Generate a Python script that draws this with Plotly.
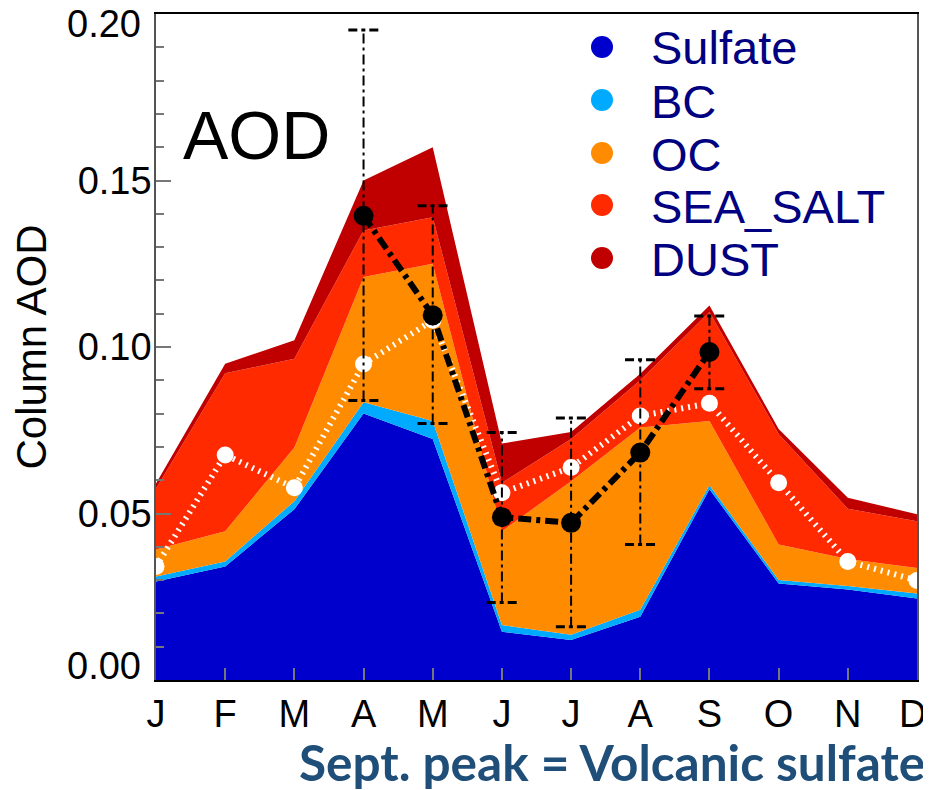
import plotly.graph_objects as go

months = ["J", "F", "M", "A", "M", "J", "J", "A", "S", "O", "N", "D"]
x_idx = list(range(len(months)))

species = ["Sulfate", "BC", "OC", "SEA_SALT", "DUST"]
colors = ["#0000CD", "#00AAFF", "#FF8C00", "#FF2A00", "#C00000"]

sulfate = [0.0296, 0.0341, 0.0513, 0.0800, 0.0724, 0.0145, 0.0120, 0.0190, 0.0573, 0.0290, 0.0272, 0.0245]
bc      = [0.0015, 0.0015, 0.0024, 0.0034, 0.0054, 0.0020, 0.0016, 0.0021, 0.0012, 0.0010, 0.0010, 0.0015]
oc      = [0.0081, 0.0091, 0.0161, 0.0376, 0.0472, 0.0282, 0.0461, 0.0547, 0.0193, 0.0107, 0.0081, 0.0076]
seasalt = [0.0183, 0.0474, 0.0267, 0.0140, 0.0140, 0.0145, 0.0127, 0.0142, 0.0327, 0.0332, 0.0151, 0.0141]
dust    = [0.0015, 0.0029, 0.0055, 0.0150, 0.0210, 0.0118, 0.0021, 0.0020, 0.0020, 0.0015, 0.0033, 0.0021]
series = [sulfate, bc, oc, seasalt, dust]

# observed (black) with error range
obs_x    = [3, 4, 5, 6, 7, 8]
obs      = [0.1394, 0.1095, 0.0489, 0.0472, 0.0683, 0.0985]
obs_high = [0.1952, 0.1424, 0.0743, 0.0787, 0.0962, 0.1093]
obs_low  = [0.0839, 0.0770, 0.0233, 0.0160, 0.0407, 0.0875]

# model total (white)
model = [0.0341, 0.0676, 0.0577, 0.0949, 0.1080, 0.0562, 0.0638, 0.0793, 0.0831, 0.0592, 0.0356, 0.0299]

y_ticks = [0, 0.05, 0.10, 0.15, 0.20]
y_ticktext = ["0.00", "0.05", "0.10", "0.15", "0.20"]

FONT = "Liberation Sans, Arial, sans-serif"
fig = go.Figure()

for name, vals, col in zip(species, series, colors):
    fig.add_trace(go.Scatter(x=x_idx, y=vals, name=name, stackgroup="aod",
                             mode="lines", line=dict(width=0, color=col),
                             fillcolor=col, showlegend=False))

# white model line
fig.add_trace(go.Scatter(x=x_idx, y=model, mode="lines+markers",
                         line=dict(color="white", width=6, dash="2px,5px"),
                         marker=dict(color="white", size=17), showlegend=False))

# error bars: vertical dash-dot lines and dashed caps
cap = 0.22
vx, vy, cx, cy = [], [], [], []
for xi, lo, hi in zip(obs_x, obs_low, obs_high):
    vx += [xi, xi, None]
    vy += [lo, hi, None]
    for v in (lo, hi):
        cx += [xi - cap, xi + cap, None]
        cy += [v, v, None]
fig.add_trace(go.Scatter(x=vx, y=vy, mode="lines",
                         line=dict(color="black", width=2, dash="10px,4px,3px,4px"),
                         showlegend=False))
fig.add_trace(go.Scatter(x=cx, y=cy, mode="lines",
                         line=dict(color="black", width=3, dash="9px,4px,4px,4px"),
                         showlegend=False))

# black observed line
fig.add_trace(go.Scatter(x=obs_x, y=obs, mode="lines+markers",
                         line=dict(color="black", width=6, dash="13px,5px,4px,5px"),
                         marker=dict(color="black", size=20), showlegend=False))

# page offset (body margin) compensation: figure drawn from (8, 8)
OFF = 8
FW, FH = 931 - OFF, 790 - OFF
# plot area in screen pixels
W0, W1, T0, T1 = 156, 917, 14, 680
def px_x(p): return (p - W0) / (W1 - W0)
def px_y(p): return (T1 - p) / (T1 - T0)

leg_y = [47, 100, 153, 205, 258]
shapes = []
annotations = []
for name, col, yy in zip(species, colors, leg_y):
    shapes.append(dict(type="circle", xref="paper", yref="paper",
                       xsizemode="pixel", ysizemode="pixel",
                       xanchor=px_x(602), yanchor=px_y(yy),
                       x0=-11, x1=11, y0=-11, y1=11,
                       fillcolor=col, line=dict(width=0)))
    annotations.append(dict(text=name, xref="paper", yref="paper",
                            x=px_x(649), y=px_y(yy + 1), xanchor="left", yanchor="middle",
                            showarrow=False, font=dict(family=FONT, size=47, color="#000080")))

# end labels of the y axis sit inside the axis span, as in the original
end_label_pos = {0: 666, 4: 24}
for i, ypos in end_label_pos.items():
    annotations.append(dict(text=y_ticktext[i], xref="paper", yref="paper",
                            x=px_x(143), y=px_y(ypos), xanchor="right", yanchor="middle",
                            showarrow=False, font=dict(family=FONT, size=38, color="black")))
y_text_shown = [("" if i in end_label_pos else t) for i, t in enumerate(y_ticktext)]

# last month label sits slightly inside the right edge
x_text_shown = months[:-1] + [""]
annotations.append(dict(text=months[-1], xref="paper", yref="paper",
                        x=px_x(912), y=px_y(714), xanchor="center", yanchor="middle",
                        showarrow=False, font=dict(family=FONT, size=38, color="black")))

annotations.append(dict(text="AOD", xref="paper", yref="paper",
                        x=px_x(181), y=px_y(135), xanchor="left", yanchor="middle",
                        showarrow=False, font=dict(family=FONT, size=68, color="black")))
annotations.append(dict(text="<b>Sept. peak = Volcanic sulfate</b>", xref="paper", yref="paper",
                        x=px_x(927), y=px_y(762), xanchor="right", yanchor="middle",
                        showarrow=False, font=dict(family="Lato, Open Sans, sans-serif", size=49.5, color="#1F4E79")))

fig.update_layout(
    width=FW, height=FH,
    margin=dict(l=W0 - OFF, r=FW - (W1 - OFF), t=T0 - OFF, b=FH - (T1 - OFF), autoexpand=False),
    paper_bgcolor="white", plot_bgcolor="white",
    shapes=shapes, annotations=annotations,
    showlegend=False,
    font=dict(family=FONT, color="black"),
)
fig.update_xaxes(range=[0, 11], tickmode="array", tickvals=x_idx, ticktext=x_text_shown,
                 automargin=False,
                 showgrid=False, zeroline=False, showline=True, linecolor="black", linewidth=1.5,
                 mirror=True, ticks="inside", ticklen=12, tickcolor="#777", tickwidth=1.5,
                 tickfont=dict(family=FONT, size=38, color="black"))
fig.update_yaxes(range=[0, 0.2], tickmode="array", tickvals=y_ticks, ticktext=y_text_shown,
                 automargin=False, ticklabelstandoff=-5,
                 showgrid=False, zeroline=False, showline=True, linecolor="#555", linewidth=1.5,
                 mirror=True, ticks="inside", ticklen=15, tickcolor="#777", tickwidth=1.5,
                 minor=dict(tickvals=[i / 100 for i in range(1, 20)], ticks="inside", ticklen=8,
                            tickcolor="#777", tickwidth=1.5, showgrid=False),
                 tickfont=dict(family=FONT, size=38, color="black"),
                 title=dict(text="Column AOD", font=dict(family=FONT, size=42, color="black"), standoff=20))

fig.write_html("out.html")
